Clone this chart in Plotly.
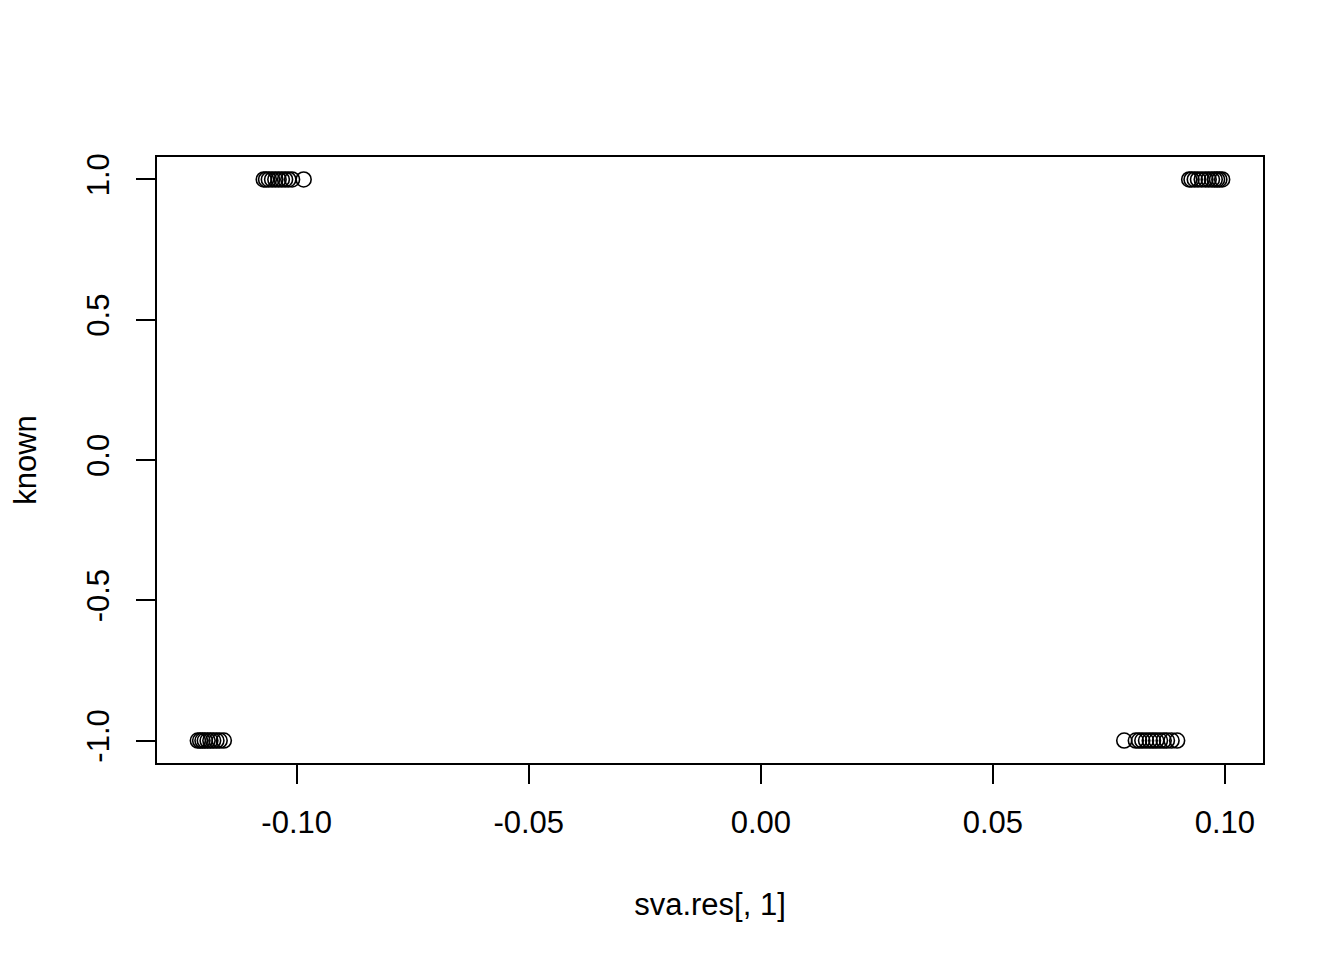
import plotly.graph_objects as go

# Data
x_top_left = [-0.1071, -0.1066, -0.1060, -0.1053, -0.1046, -0.1039, -0.1032, -0.1025, -0.1018, -0.1010, -0.0985]
x_top_right = [0.0923, 0.0928, 0.0935, 0.0942, 0.0950, 0.0958, 0.0965, 0.0972, 0.0978, 0.0983, 0.0988, 0.0994]
x_bot_left = [-0.1213, -0.1208, -0.1203, -0.1198, -0.1192, -0.1186, -0.1180, -0.1173, -0.1166, -0.1157]
x_bot_right = [0.0783, 0.0808, 0.0815, 0.0822, 0.0830, 0.0838, 0.0845, 0.0852, 0.0860, 0.0868, 0.0875, 0.0885, 0.0897]

known_top = 1.0
known_bottom = -1.0

x_ticks = [-0.10, -0.05, 0.00, 0.05, 0.10]
x_tick_labels = ["-0.10", "-0.05", "0.00", "0.05", "0.10"]
y_ticks = [-1.0, -0.5, 0.0, 0.5, 1.0]
y_tick_labels = ["-1.0", "-0.5", "0.0", "0.5", "1.0"]

xs = x_top_left + x_top_right + x_bot_left + x_bot_right
ys = ([known_top] * (len(x_top_left) + len(x_top_right))
      + [known_bottom] * (len(x_bot_left) + len(x_bot_right)))

font = dict(family="Liberation Sans, Arial, sans-serif", size=31, color="black")

fig = go.Figure()
fig.add_trace(go.Scatter(
    x=xs, y=ys, mode="markers",
    marker=dict(symbol="circle-open", size=15, color="black",
                line=dict(width=1.6, color="black")),
    showlegend=False, hoverinfo="skip",
))

axis_common = dict(
    showgrid=False, zeroline=False, showline=True, linecolor="black",
    linewidth=1.5, mirror=True, ticks="outside", ticklen=19, tickwidth=1.5,
    tickcolor="black", tickfont=font,
)

fig.update_layout(
    width=1336, height=952,
    paper_bgcolor="white", plot_bgcolor="white",
    margin=dict(l=149, r=81, t=149, b=197),
    font=font,
    xaxis=dict(range=[-0.1301, 0.1082], tickvals=x_ticks, ticktext=x_tick_labels,
               title=dict(text="sva.res[, 1]", font=font, standoff=54),
               ticklabelstandoff=12, **axis_common),
    yaxis=dict(range=[-1.08, 1.08], tickvals=y_ticks, ticktext=y_tick_labels,
               tickangle=-90,
               title=dict(text="known", font=font, standoff=38),
               ticklabelstandoff=15, **axis_common),
)

fig.write_html("out.html")
